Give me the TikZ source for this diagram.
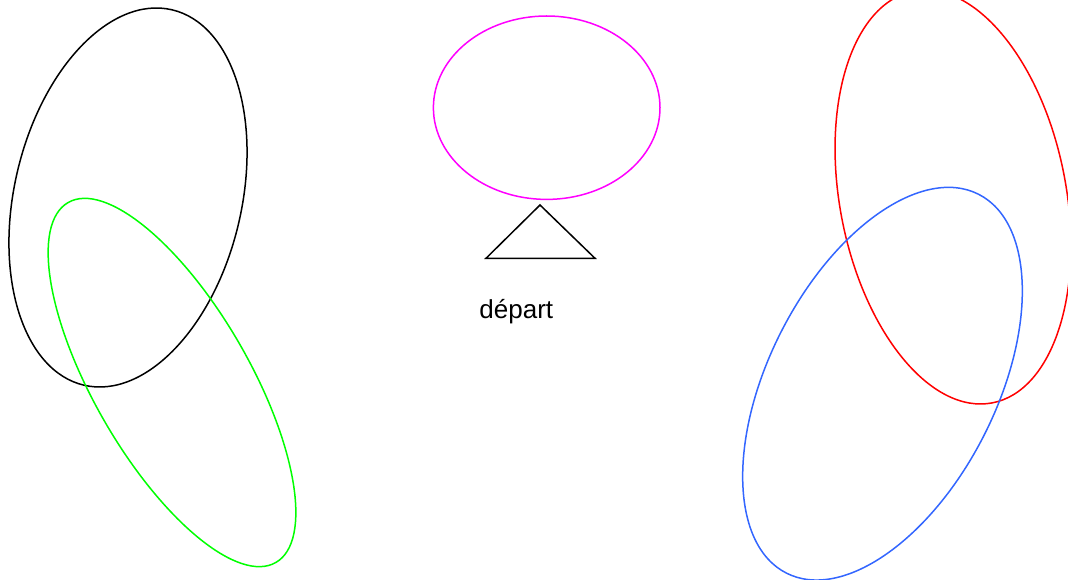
\documentclass[tikz,border=0pt]{standalone}
\usepackage{fontspec}
\setmainfont{Liberation Sans}
\newcommand{\figlabelfont}{\fontsize{26}{31}\selectfont}
\begin{document}
\begin{tikzpicture}[x=1pt,y=1pt,line width=1.5pt,
  every node/.style={font=\figlabelfont}]
\definecolor{loopblack}{RGB}{0,0,0}
\definecolor{loopgreen}{RGB}{0,255,0}
\definecolor{loopmagenta}{RGB}{255,0,255}
\definecolor{loopred}{RGB}{255,0,0}
\definecolor{loopblue}{RGB}{51,102,255}
\useasboundingbox (0,0) rectangle (1068,579);
\clip (0,0) rectangle (1068,579);
% Ellipses: {x, y, major radius, minor radius, angle, colour}
\foreach \cx/\cy/\ra/\rb/\ang/\col in {
  128/381.5/192.8/113.6/76.8/loopblack,
  172/196.5/207.8/77.8/120/loopgreen,
  546.7/471.3/113.3/91.7/0/loopmagenta,
  953/382/209.6/113.2/100.8/loopred,
  882.5/195.3/212.4/113.9/63.1/loopblue%
} {
  \draw[\col] (\cx,\cy) ellipse [x radius=\ra, y radius=\rb, rotate=\ang];
}
% Start marker
\draw[loopblack, line join=miter] (540,374) -- (486,320.7) -- (595,320.7) -- cycle;
\node[anchor=base, inner sep=0pt] (depart) at (516.3,260.7) {départ};
\end{tikzpicture}
\end{document}
